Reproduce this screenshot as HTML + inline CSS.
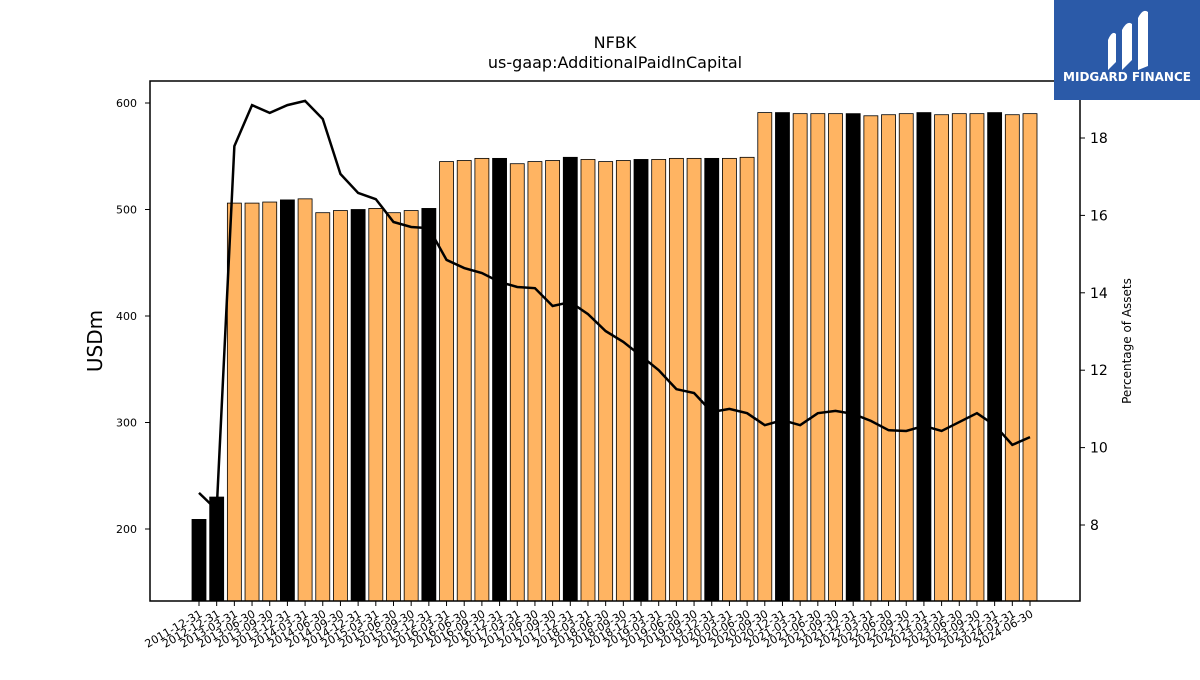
<!DOCTYPE html>
<html><head><meta charset="utf-8"><style>
body{margin:0;background:#fff;font-family:"Liberation Sans","DejaVu Sans",sans-serif}
</style></head><body>
<svg width="1200" height="675" xmlns="http://www.w3.org/2000/svg" font-family="DejaVu Sans, Liberation Sans, sans-serif">
<rect width="1200" height="675" fill="#fff"/>
<text x="615" y="48" font-size="16" text-anchor="middle">NFBK</text>
<text x="615" y="68" font-size="16" text-anchor="middle">us-gaap:AdditionalPaidInCapital</text>
<g id="bars"></g><g id="line"></g><g id="axes"></g>
<rect x="150" y="81" width="930" height="520" fill="none" stroke="#000" stroke-width="1.5"/>
<text transform="translate(102,341) rotate(-90)" font-size="20" text-anchor="middle">USDm</text>
<text transform="translate(1131,341) rotate(-90)" font-size="12" text-anchor="middle">Percentage of Assets</text>
<g>
<rect x="1054" y="0" width="146" height="100" fill="#2b5aa8"/>
<path d="M1108 70 L1108 40 Q1112 30 1116 34 L1116 62 Z M1122 70 L1122 30 Q1127 20 1132 24 L1132 60 Z M1138 70 L1138 18 Q1143 8 1148 12 L1148 66 Z" fill="#fff"/>
<text x="1127" y="81" font-size="12" font-weight="bold" fill="#fff" text-anchor="middle">MIDGARD FINANCE</text>
</g>
</svg>
<script>
const categories=["2011-12-31","2012-12-31","2013-03-31","2013-06-30","2013-09-30","2013-12-31","2014-03-31","2014-06-30","2014-09-30","2014-12-31","2015-03-31","2015-06-30","2015-09-30","2015-12-31","2016-03-31","2016-06-30","2016-09-30","2016-12-31","2017-03-31","2017-06-30","2017-09-30","2017-12-31","2018-03-31","2018-06-30","2018-09-30","2018-12-31","2019-03-31","2019-06-30","2019-09-30","2019-12-31","2020-03-31","2020-06-30","2020-09-30","2020-12-31","2021-03-31","2021-06-30","2021-09-30","2021-12-31","2022-03-31","2022-06-30","2022-09-30","2022-12-31","2023-03-31","2023-06-30","2023-09-30","2023-12-31","2024-03-31","2024-06-30"];
const apic=[209,230,506,506,507,509,510,497,499,500,501,497,499,501,545,546,548,548,543,545,546,549,547,545,546,547,547,548,548,548,548,549,591,591,590,590,590,590,588,589,590,591,589,590,590,591,589,590];
const pctAssets=[8.83,8.39,17.79,18.85,18.65,18.85,18.96,18.49,17.07,16.58,16.42,15.83,15.70,15.67,14.85,14.64,14.51,14.28,14.15,14.12,13.66,13.76,13.45,13.01,12.73,12.37,12.0,11.51,11.41,10.92,11.0,10.89,10.58,10.71,10.58,10.89,10.95,10.87,10.69,10.45,10.43,10.56,10.43,10.66,10.89,10.58,10.07,10.27];
const leftTicks=[200,300,400,500,600];
const rightTicks=[8,10,12,14,16,18];
const NS="http://www.w3.org/2000/svg";
const xPos=i=>199+i*(1030-199)/(categories.length-1);
const yL=v=>529-(v-200)*1.065;
const yR=v=>525-(v-8)*38.7;
function mk(t,a,p){const e=document.createElementNS(NS,t);for(const k in a)e.setAttribute(k,a[k]);p.appendChild(e);return e;}
const bars=document.getElementById('bars'),line=document.getElementById('line'),axes=document.getElementById('axes');
categories.forEach((c,i)=>{
  const x=xPos(i),y=yL(apic[i]);
  const b=mk('rect',{x:x-7,y:y,width:14,height:601-y,fill:c.endsWith('12-31')?'#000':'#ffb462',stroke:'#000','stroke-width':0.8},bars);
  
  
  const t=mk('line',{x1:x,x2:x,y1:601,y2:606,stroke:'#000'},axes);
  
  
  const l=mk('text',{transform:`translate(${x+4},${616}) rotate(-30)`,'font-size':11,'text-anchor':'end'},axes);
  l.textContent=c;
  
  
});
const pts=pctAssets.map((v,i)=>xPos(i)+','+yR(v)).join(' ');
const pl=mk('polyline',{points:pts,fill:'none',stroke:'#000','stroke-width':2.5},line);


leftTicks.forEach(v=>{const y=yL(v);
  const t=mk('line',{x1:145,x2:150,y1:y,y2:y,stroke:'#000'},axes);
  
  
  const l=mk('text',{x:137,y:y+4,'font-size':11,'text-anchor':'end'},axes);l.textContent=v;
  
  
});
rightTicks.forEach(v=>{const y=yR(v);
  const t=mk('line',{x1:1080,x2:1085,y1:y,y2:y,stroke:'#000'},axes);
  
  
  const l=mk('text',{x:1090,y:y+5,'font-size':14},axes);l.textContent=v;
  
  
});
</script>
</body></html>
